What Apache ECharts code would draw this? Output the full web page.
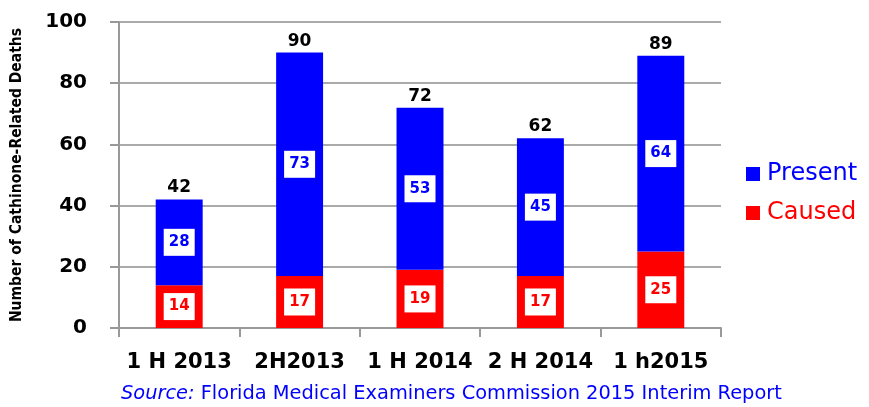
<!DOCTYPE html>
<html>
<head>
<meta charset="utf-8">
<script src="https://cdn.jsdelivr.net/npm/echarts@6/dist/echarts.min.js"></script>
<style>
  html, body { margin: 0; padding: 0; background: #fff; }
  #chart { width: 869px; height: 407px; }
</style>
</head>
<body>
<div id="chart"></div>
<script>
const categories = ['1 H 2013', '2H2013', '1 H 2014', '2 H 2014', '1 h2015'];
const caused = [14, 17, 19, 17, 25];
const present = [28, 73, 53, 45, 64];
const totals = [42, 90, 72, 62, 89];

const chart = echarts.init(document.getElementById('chart'));

function boxLabel(color) {
  return {
    show: true,
    position: 'inside',
    color: color,
    backgroundColor: '#fff',
    fontFamily: 'DejaVu Sans',
    fontWeight: 'bold',
    fontSize: 15,
    width: 23,
    align: 'center',
    padding: [4, 4, 3, 4],
    lineHeight: 20
  };
}

const option = {
  animation: false,
  grid: { left: 119, right: 148, top: 22, bottom: 79, outerBoundsMode: 'none' },
  legend: {
    data: [
      { name: 'Present', textStyle: { color: '#0000ff' } },
      { name: 'Caused', textStyle: { color: '#ff0000' } }
    ],
    orient: 'vertical',
    left: 741,
    top: 157,
    itemWidth: 14,
    itemHeight: 14,
    itemGap: 15,
    icon: 'rect',
    textStyle: { fontFamily: 'DejaVu Sans', fontSize: 24, padding: [0, 0, 0, 2] }
  },
  xAxis: {
    type: 'category',
    data: categories,
    axisLine: { lineStyle: { color: '#999', width: 2 } },
    axisTick: { show: true, length: 9, lineStyle: { color: '#999', width: 2 } },
    axisLabel: {
      interval: 0,
      color: '#000',
      fontFamily: 'DejaVu Sans',
      fontWeight: 'bold',
      fontSize: 21,
      margin: 24
    }
  },
  yAxis: {
    type: 'value',
    min: 0,
    max: 100,
    interval: 20,
    name: 'Number of Cathinone-Related Deaths',
    nameLocation: 'middle',
    nameGap: 94,
    nameTextStyle: {
      fontFamily: 'DejaVu Sans Condensed',
      fontWeight: 'bold',
      fontSize: 15.5,
      color: '#000'
    },
    axisLine: { show: true, lineStyle: { color: '#999', width: 2 } },
    axisTick: { show: true, length: 9, lineStyle: { color: '#999', width: 2 } },
    splitLine: { lineStyle: { color: '#aaa', width: 2 } },
    axisLabel: {
      color: '#000',
      fontFamily: 'DejaVu Sans',
      fontWeight: 'bold',
      fontSize: 20,
      margin: 32
    }
  },
  series: [
    {
      name: 'Caused',
      type: 'bar',
      stack: 'deaths',
      barWidth: '39%',
      data: caused,
      itemStyle: { color: '#ff0000' },
      label: boxLabel('#ff0000')
    },
    {
      name: 'Present',
      type: 'bar',
      stack: 'deaths',
      data: present,
      itemStyle: { color: '#0000ff' },
      label: boxLabel('#0000ff')
    },
    {
      name: 'Total',
      type: 'bar',
      stack: 'deaths',
      data: totals.map(function () { return 0; }),
      itemStyle: { color: 'transparent' },
      label: {
        show: true,
        position: 'top',
        distance: 3,
        color: '#000',
        fontFamily: 'DejaVu Sans',
        fontWeight: 'bold',
        fontSize: 17,
        formatter: function (p) { return totals[p.dataIndex]; }
      }
    }
  ],
  graphic: [
    {
      type: 'text',
      left: 121,
      top: 384,
      style: {
        text: '{i|Source:} Florida Medical Examiners Commission 2015 Interim Report',
        fill: '#0000ff',
        font: '19.4px DejaVu Sans',
        rich: {
          i: { fontStyle: 'italic', fontFamily: 'DejaVu Sans', fontSize: 19.4, fill: '#0000ff' }
        }
      }
    }
  ]
};

chart.setOption(option);
</script>
</body>
</html>
